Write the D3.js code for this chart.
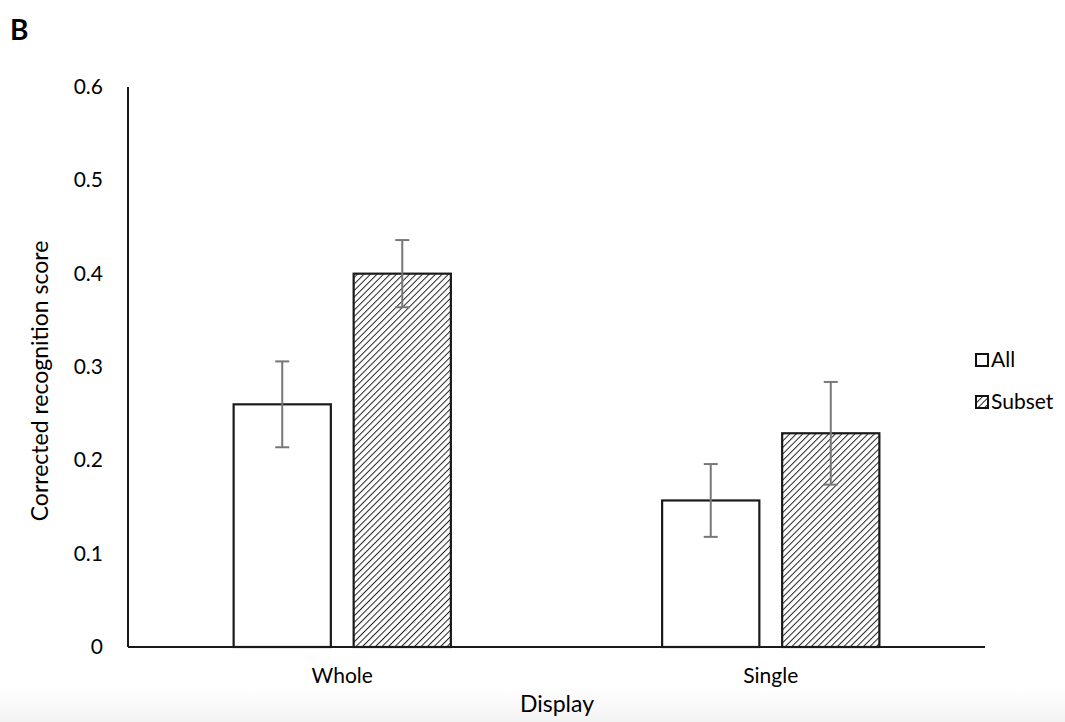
<!DOCTYPE html>
<html>
<head>
<meta charset="utf-8">
<script src="https://cdn.jsdelivr.net/npm/d3@7"></script>
<style>
  body { margin: 0; background: #fff; }
  svg { font-family: Lato, "Open Sans", sans-serif; }
</style>
</head>
<body>
<div id="chart"></div>
<script>
// Data
const categories = ['Whole', 'Single'];
const series = ['All', 'Subset'];
const allMeans = [0.260, 0.157];
const allErr = [0.046, 0.039];
const subsetMeans = [0.400, 0.229];
const subsetErr = [0.036, 0.055];
const yTicks = [0, 0.1, 0.2, 0.3, 0.4, 0.5, 0.6];

const width = 1065, height = 722;
const margin = { left: 128, right: 80, top: 87, bottom: 75 };

const svg = d3.select('#chart').append('svg')
    .attr('width', width)
    .attr('height', height);

// soft grey strip at the bottom of the scan
const grad = svg.append('defs').append('linearGradient')
    .attr('id', 'fade').attr('x1', 0).attr('x2', 0).attr('y1', 0).attr('y2', 1);
grad.append('stop').attr('offset', '0%').attr('stop-color', '#ffffff');
grad.append('stop').attr('offset', '100%').attr('stop-color', '#f3f3f3');
svg.append('rect').attr('x', 0).attr('y', 688).attr('width', width).attr('height', 34)
    .attr('fill', 'url(#fade)');

// hatch pattern for Subset
const pat = svg.select('defs').append('pattern')
    .attr('id', 'hatch')
    .attr('patternUnits', 'userSpaceOnUse')
    .attr('width', 4.6).attr('height', 4.6)
    .attr('patternTransform', 'rotate(45)');
pat.append('rect').attr('width', 4.6).attr('height', 4.6).attr('fill', '#fff');
pat.append('line').attr('x1', 0).attr('y1', 0).attr('x2', 0).attr('y2', 4.6)
    .attr('stroke', '#222').attr('stroke-width', 2);

const x0 = d3.scaleBand()
    .domain(categories)
    .range([margin.left, width - margin.right]);

const x1 = d3.scaleBand()
    .domain(series)
    .range([0, x0.bandwidth()])
    .paddingInner(0.19)
    .paddingOuter(0.88);

const y = d3.scaleLinear()
    .domain([0, 0.6])
    .range([height - margin.bottom, margin.top]);

const rows = [];
categories.forEach((c, i) => {
    rows.push({ cat: c, s: 'All', v: allMeans[i], e: allErr[i] });
    rows.push({ cat: c, s: 'Subset', v: subsetMeans[i], e: subsetErr[i] });
});

// bars
svg.selectAll('.bar')
    .data(rows)
    .enter()
    .append('rect')
    .attr('class', 'bar')
    .attr('x', d => x0(d.cat) + x1(d.s))
    .attr('y', d => y(d.v))
    .attr('width', x1.bandwidth())
    .attr('height', d => y(0) - y(d.v))
    .attr('fill', d => d.s === 'All' ? '#fff' : 'url(#hatch)')
    .attr('stroke', '#1a1a1a')
    .attr('stroke-width', 2.2);

// error bars
const eb = svg.selectAll('.err')
    .data(rows)
    .enter()
    .append('g')
    .attr('class', 'err')
    .attr('stroke', '#777')
    .attr('stroke-width', 2);
const cx = d => x0(d.cat) + x1(d.s) + x1.bandwidth() / 2;
eb.append('line')
    .attr('x1', cx).attr('x2', cx)
    .attr('y1', d => y(d.v + d.e)).attr('y2', d => y(d.v - d.e));
eb.append('line')
    .attr('x1', d => cx(d) - 7).attr('x2', d => cx(d) + 7)
    .attr('y1', d => y(d.v + d.e)).attr('y2', d => y(d.v + d.e));
eb.append('line')
    .attr('x1', d => cx(d) - 7).attr('x2', d => cx(d) + 7)
    .attr('y1', d => y(d.v - d.e)).attr('y2', d => y(d.v - d.e));

// axes
svg.append('line')
    .attr('x1', margin.left).attr('x2', margin.left)
    .attr('y1', y(0.6)).attr('y2', y(0))
    .attr('stroke', '#1a1a1a').attr('stroke-width', 2);
svg.append('line')
    .attr('x1', margin.left).attr('x2', width - margin.right)
    .attr('y1', y(0)).attr('y2', y(0))
    .attr('stroke', '#1a1a1a').attr('stroke-width', 2);

svg.selectAll('.ytick')
    .data(yTicks)
    .enter()
    .append('text')
    .attr('class', 'ytick')
    .attr('x', 103)
    .attr('y', d => y(d) + 7)
    .attr('text-anchor', 'end')
    .attr('font-size', 21)
    .attr('fill', '#000')
    .text(d => d === 0 ? '0' : d.toFixed(1));

svg.selectAll('.xtick')
    .data(categories)
    .enter()
    .append('text')
    .attr('class', 'xtick')
    .attr('x', d => x0(d) + x0.bandwidth() / 2)
    .attr('y', 683)
    .attr('text-anchor', 'middle')
    .attr('font-size', 21)
    .attr('fill', '#000')
    .text(d => d);

svg.append('text')
    .attr('x', 557).attr('y', 712)
    .attr('text-anchor', 'middle')
    .attr('font-size', 23)
    .attr('fill', '#000')
    .text('Display');

svg.append('text')
    .attr('transform', 'translate(48,381) rotate(-90)')
    .attr('text-anchor', 'middle')
    .attr('font-size', 23)
    .attr('fill', '#000')
    .text('Corrected recognition score');

svg.append('text')
    .attr('x', 10).attr('y', 40)
    .attr('font-size', 28)
    .attr('font-weight', 'bold')
    .attr('fill', '#000')
    .text('B');

// legend
const legend = svg.selectAll('.legend')
    .data(series)
    .enter()
    .append('g')
    .attr('class', 'legend')
    .attr('transform', (d, i) => `translate(976, ${354 + i * 42})`);
legend.append('rect')
    .attr('width', 12).attr('height', 12)
    .attr('fill', d => d === 'All' ? '#fff' : 'url(#hatch)')
    .attr('stroke', '#111').attr('stroke-width', 2);
legend.append('text')
    .attr('x', 15).attr('y', 13)
    .attr('font-size', 21)
    .attr('fill', '#000')
    .text(d => d);
</script>
</body>
</html>
